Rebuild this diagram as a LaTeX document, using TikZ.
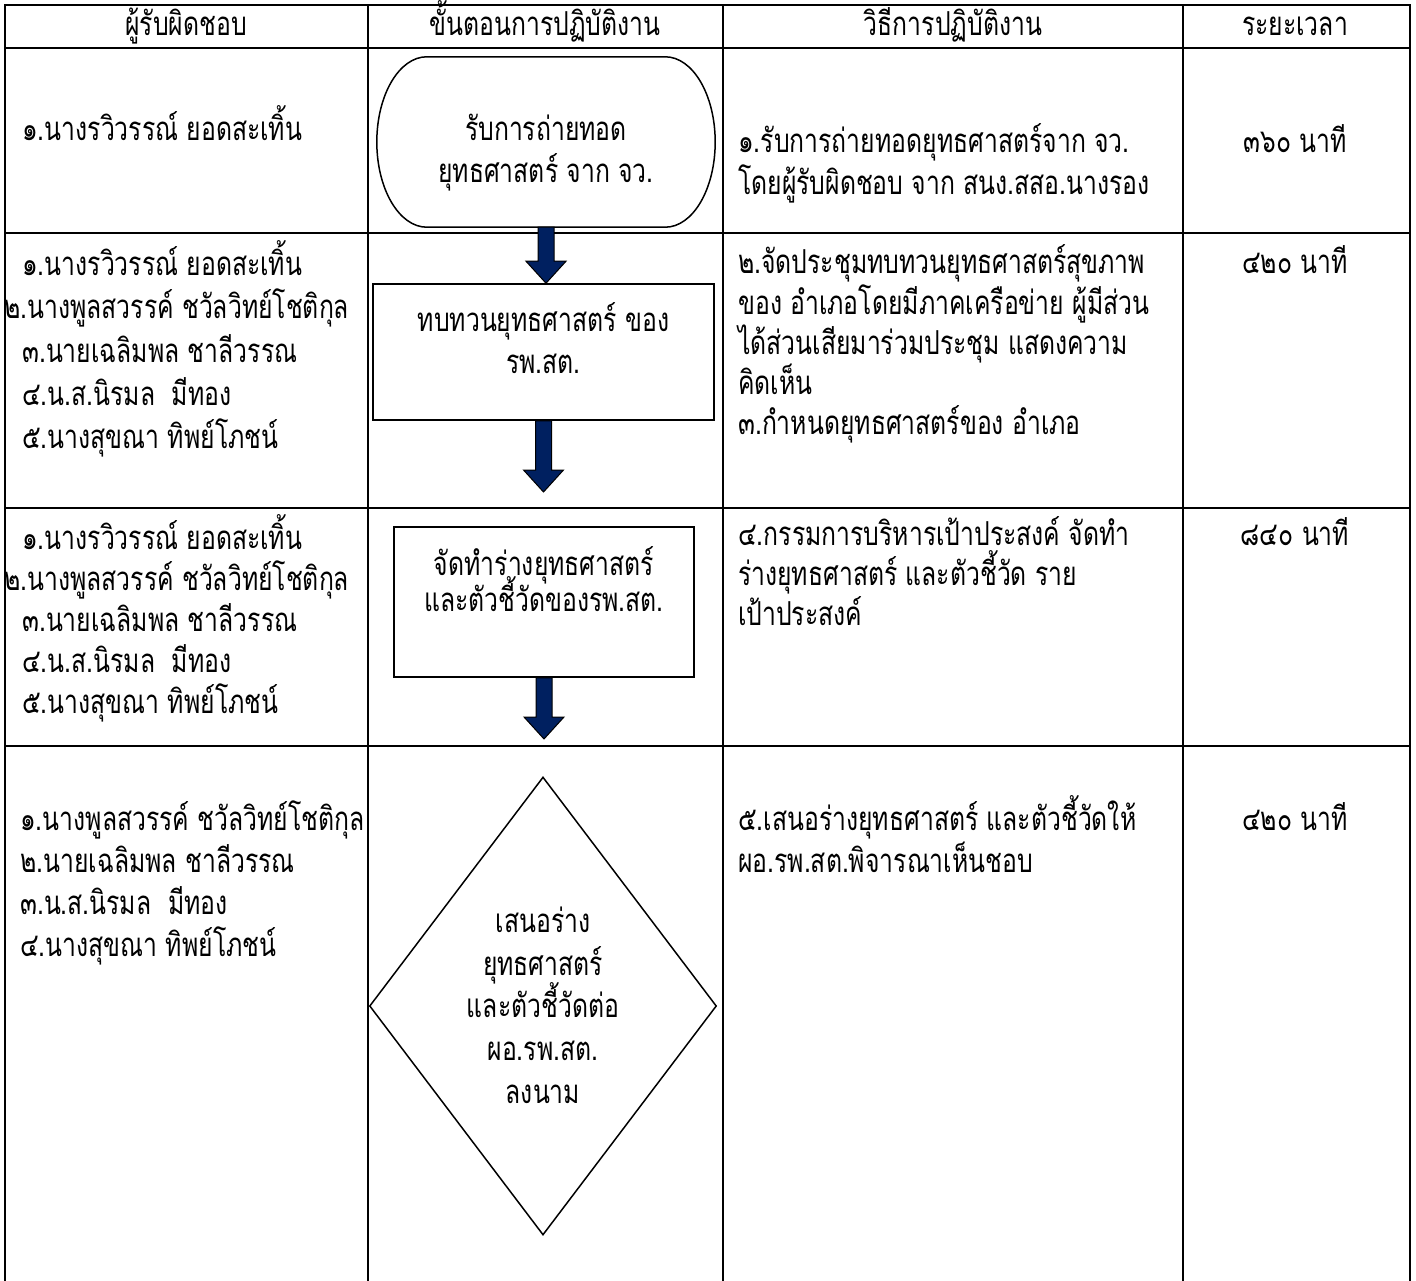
\documentclass[tikz,border=0pt]{standalone}
\usepackage{fontspec}
\newfontfamily\thaifont[Script=Thai,FakeStretch=0.75]{Loma}
\usetikzlibrary{calc,shapes.geometric}
\definecolor{navyfill}{RGB}{0,32,96}
\newcommand\blockarrow[2]{%
  \filldraw[barrow] let \p1=(#1), \p2=(#2) in
   (\x1-8pt,\y1) -- (\x1-8pt,\y2+22pt) -- (\x1-20pt,\y2+22pt) -- (\x1,\y2)
   -- (\x1+20pt,\y2+22pt) -- (\x1+8pt,\y2+22pt) -- (\x1+8pt,\y1) -- cycle;}
\newcommand\textlines[5]{%
  \foreach \s [count=\i] in {#5} {\node[tl] (#1\i) at (#2,{#3+(\i-1)*#4}) {\s};}}
\begin{document}
\begin{tikzpicture}[x=1pt,y=-1pt,
  tl/.style={font=\thaifont\fontsize{33}{40}\selectfont, inner sep=0pt, anchor=base west},
  tc/.style={tl, anchor=base},
  gridline/.style={line width=1.8pt},
  outline/.style={draw=black, line width=1.5pt},
  barrow/.style={fill=navyfill, draw=black, line width=1pt}]
\useasboundingbox (0,0) rectangle (1416,1281);
\fill[white] (0,0) rectangle (1416,1281);
% table grid
\draw[gridline] (5,1281) -- (5,5) -- (1410,5) -- (1410,1281);
\foreach \x in {368,723,1183} \draw[gridline] (\x,5) -- (\x,1281);
\foreach \y in {48,233,508,746} \draw[gridline] (5,\y) -- (1410,\y);
% header
\node[tc] (h1) at (186,36) {ผู้รับผิดชอบ};
\node[tc] (h2) at (545,36) {ขั้นตอนการปฏิบัติงาน};
\node[tc] (h3) at (953,36) {วิธีการปฏิบัติงาน};
\node[tc] (h4) at (1295,36) {ระยะเวลา};
% row 1
\node[tl] (p1) at (22,141) {๑.นางรวิวรรณ์ ยอดสะเทิ้น};
\node[minimum width=338pt, minimum height=170pt, inner sep=0pt] (term) at (546,142) {};
\draw[outline] let \p1=(term.north west), \p2=(term.south east), \n1={(\y1-\y2)/2} in
  (\x1+50pt,\y1) -- (\x2-50pt,\y1) arc[start angle=90, end angle=-90, x radius=50pt, y radius=\n1]
  -- (\x1+50pt,\y2) arc[start angle=270, end angle=90, x radius=50pt, y radius=\n1] -- cycle;
\node[tc] (term1) at (546,141) {รับการถ่ายทอด};
\node[tc] (term2) at (546,183) {ยุทธศาสตร์ จาก จว.};
\node[tl] (m1a) at (738,153) {๑.รับการถ่ายทอดยุทธศาสตร์จาก จว.};
\node[tl] (m1b) at (738,195) {โดยผู้รับผิดชอบ จาก สนง.สสอ.นางรอง};
\node[tc] (tm1) at (1295,153) {๓๖๐ นาที};
% row 2
\node[tl] (p2a) at (22,276) {๑.นางรวิวรรณ์ ยอดสะเทิ้น};
\node[tl] (p2b) at (4,319) {๒.นางพูลสวรรค์ ชวัลวิทย์โชติกุล};
\node[tl] (p2c) at (22,362) {๓.นายเฉลิมพล ชาลีวรรณ};
\node[tl] (p2d) at (22,405) {๔.น.ส.นิรมล\ \ มีทอง};
\node[tl] (p2e) at (22,448) {๕.นางสุขณา ทิพย์โภชน์};
\node[outline, minimum width=341pt, minimum height=136pt, inner sep=0pt] (box2) at (543.5,352) {};
\node[tc] (b2a) at (543.5,331) {ทบทวนยุทธศาสตร์ ของ};
\node[tc] (b2b) at (543.5,373) {รพ.สต.};
\blockarrow{term.south}{box2.north}
\coordinate (a2end) at (543.5,492);
\blockarrow{box2.south}{a2end}
\textlines{m2}{738}{274}{40}{๒.จัดประชุมทบทวนยุทธศาสตร์สุขภาพ,ของ อำเภอโดยมีภาคเครือข่าย ผู้มีส่วน,ได้ส่วนเสียมาร่วมประชุม แสดงความ,คิดเห็น,๓.กำหนดยุทธศาสตร์ของ อำเภอ}
\node[tc] (tm2) at (1295,274) {๔๒๐ นาที};
% row 3
\node[tl] (p3a) at (22,549) {๑.นางรวิวรรณ์ ยอดสะเทิ้น};
\node[tl] (p3b) at (4,590) {๒.นางพูลสวรรค์ ชวัลวิทย์โชติกุล};
\node[tl] (p3c) at (22,631) {๓.นายเฉลิมพล ชาลีวรรณ};
\node[tl] (p3d) at (22,672) {๔.น.ส.นิรมล\ \ มีทอง};
\node[tl] (p3e) at (22,713) {๕.นางสุขณา ทิพย์โภชน์};
\node[outline, minimum width=300pt, minimum height=150pt, inner sep=0pt] (box3) at (544,602) {};
\node[tc] (b3a) at (544,575) {จัดทำร่างยุทธศาสตร์};
\node[tc] (b3b) at (544,611) {และตัวชี้วัดของรพ.สต.};
\coordinate (a3end) at (544,739);
\blockarrow{box3.south}{a3end}
\textlines{m3}{738}{545}{40}{๔.กรรมการบริหารเป้าประสงค์ จัดทำ,ร่างยุทธศาสตร์ และตัวชี้วัด ราย,เป้าประสงค์}
\node[tc] (tm3) at (1295,545) {๘๔๐ นาที};
% row 4
\textlines{p4}{20}{830}{42}{๑.นางพูลสวรรค์ ชวัลวิทย์โชติกุล,๒.นายเฉลิมพล ชาลีวรรณ,๓.น.ส.นิรมล\ \ มีทอง,๔.นางสุขณา ทิพย์โภชน์}
\node[diamond, outline, minimum width=347pt, minimum height=458pt, inner sep=0pt] (dia) at (543,1006) {};
\node[tc] (d1) at (543,932) {เสนอร่าง};
\node[tc] (d2) at (543,975) {ยุทธศาสตร์};
\node[tc] (d3) at (543,1017) {และตัวชี้วัดต่อ};
\node[tc] (d4) at (543,1060) {ผอ.รพ.สต.};
\node[tc] (d5) at (543,1103) {ลงนาม};
\textlines{m4}{738}{830}{42}{๕.เสนอร่างยุทธศาสตร์ และตัวชี้วัดให้,ผอ.รพ.สต.พิจารณาเห็นชอบ}
\node[tc] (tm4) at (1295,830) {๔๒๐ นาที};
\end{tikzpicture}
\end{document}
